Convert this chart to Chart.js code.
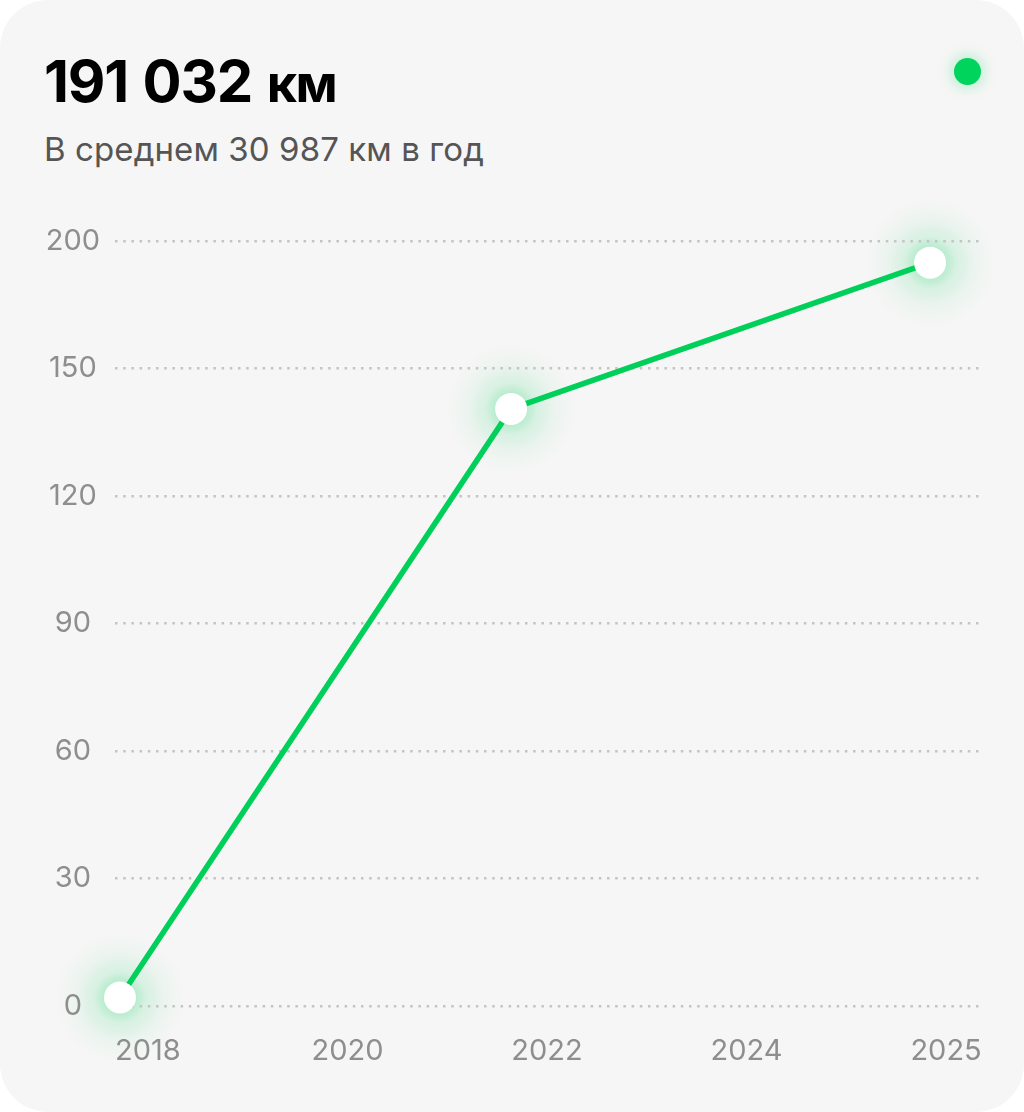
<!DOCTYPE html>
<html lang="ru">
<head>
<meta charset="utf-8">
<title>Пробег</title>
<script src="https://cdn.jsdelivr.net/npm/chart.js@4"></script>
<style>
  html, body { margin: 0; padding: 0; background: #fff; }
  #card {
    position: relative; width: 1024px; height: 1112px; overflow: hidden;
    background: #f6f6f6; border-radius: 48px; font-family: Inter, sans-serif;
  }
  #total {
    position: absolute; left: 44px; top: 46px; margin: 0;
    font-size: 58px; line-height: 70px; font-weight: 700; color: #000; letter-spacing: -1.2px; word-spacing: 2px;
  }
  #total span { font-size: 52px; letter-spacing: -1.5px; }
  #average {
    position: absolute; left: 44px; top: 128px; margin: 0;
    font-size: 33px; line-height: 42px; font-weight: 400; color: #555; letter-spacing: 0.1px;
  }
  #status {
    position: absolute; left: 954px; top: 58px; width: 27px; height: 27px; border-radius: 50%;
    background: #00d45c; box-shadow: 0 0 16px rgba(0, 212, 92, 0.4);
  }
  #chart { position: absolute; left: 0; top: 0; }
</style>
</head>
<body>
<div id="card">
  <h1 id="total">191 032 <span>км</span></h1>
  <p id="average">В среднем 30 987 км в год</p>
  <div id="status"></div>
  <canvas id="chart" width="1024" height="1112"></canvas>
</div>
<script>
const yearTicks = [2018, 2020, 2022, 2024, 2025];
const distanceTicks = [0, 30, 60, 90, 120, 150, 200];
const pointYears = [2017.72, 2021.64, 2024.92];
const pointDistances = [2, 140.5, 191.5];

const GREEN = '#00cf5a';

// Ticks sit at equal distances even though their values don't, so values map piece by piece
class SteppedScale extends Chart.LinearScale {
  buildTicks() {
    return this.options.knots.map(value => ({ value }));
  }
  knotPosition(value) {
    const knots = this.options.knots;
    let i = 0;
    while (i < knots.length - 2 && value > knots[i + 1]) i++;
    return i + (value - knots[i]) / (knots[i + 1] - knots[i]);
  }
  getPixelForValue(value) {
    const { padStart, padEnd, knots } = this.options;
    const span = knots.length - 1 + padStart + padEnd;
    return this.getPixelForDecimal((this.knotPosition(value) + padStart) / span);
  }
}
SteppedScale.id = 'stepped';
SteppedScale.defaults = Chart.LinearScale.defaults;
Chart.register(SteppedScale);

// Drawn before the grid so the dots and tick labels stay on top of it
const glowPlugin = {
  id: 'glow',
  beforeDraw(chart) {
    const ctx = chart.ctx;
    chart.getDatasetMeta(0).data.forEach(p => {
      const g = ctx.createRadialGradient(p.x, p.y, 12, p.x, p.y, 66);
      g.addColorStop(0, 'rgba(0, 207, 90, 0.3)');
      g.addColorStop(0.25, 'rgba(0, 207, 90, 0.13)');
      g.addColorStop(0.6, 'rgba(0, 207, 90, 0.04)');
      g.addColorStop(1, 'rgba(0, 207, 90, 0)');
      ctx.save();
      ctx.fillStyle = g;
      ctx.beginPath();
      ctx.arc(p.x, p.y, 66, 0, Math.PI * 2);
      ctx.fill();
      ctx.restore();
    });
  }
};

const tickFont = { family: 'Inter, sans-serif', size: 29, weight: '400' };

new Chart(document.getElementById('chart'), {
  type: 'line',
  data: {
    datasets: [{
      data: pointYears.map((x, i) => ({ x, y: pointDistances[i] })),
      borderColor: GREEN,
      borderWidth: 5.5,
      tension: 0,
      pointRadius: 16,
      pointBorderWidth: 0,
      pointBackgroundColor: '#fff',
      clip: false
    }]
  },
  options: {
    responsive: false,
    animation: false,
    layout: { padding: { top: 241, right: 44, left: 0, bottom: 0 } },
    plugins: { legend: { display: false }, tooltip: { enabled: false } },
    scales: {
      x: {
        type: 'stepped',
        knots: yearTicks,
        padStart: 0.165,
        padEnd: 0.17,
        min: 2017,
        max: 2026,
        afterFit: s => { s.height = 106; },
        border: { display: false },
        grid: { display: false, drawTicks: false },
        ticks: {
          color: '#8e8e8e',
          font: tickFont,
          padding: 28,
          autoSkip: false,
          maxRotation: 0,
          callback: v => String(v)
        }
      },
      y: {
        type: 'stepped',
        knots: distanceTicks,
        padStart: 0,
        padEnd: 0,
        min: 0,
        max: 200,
        afterFit: s => { s.width = 115; },
        border: { display: false, dash: [2.5, 5.7] },
        grid: {
          color: '#c4c4c4',
          lineWidth: 2.5,
          drawTicks: false
        },
        ticks: {
          color: '#8e8e8e',
          font: tickFont,
          padding: 15,
          crossAlign: 'center',
          autoSkip: false,
          callback: v => String(v)
        }
      }
    }
  },
  plugins: [glowPlugin]
});
</script>
</body>
</html>
